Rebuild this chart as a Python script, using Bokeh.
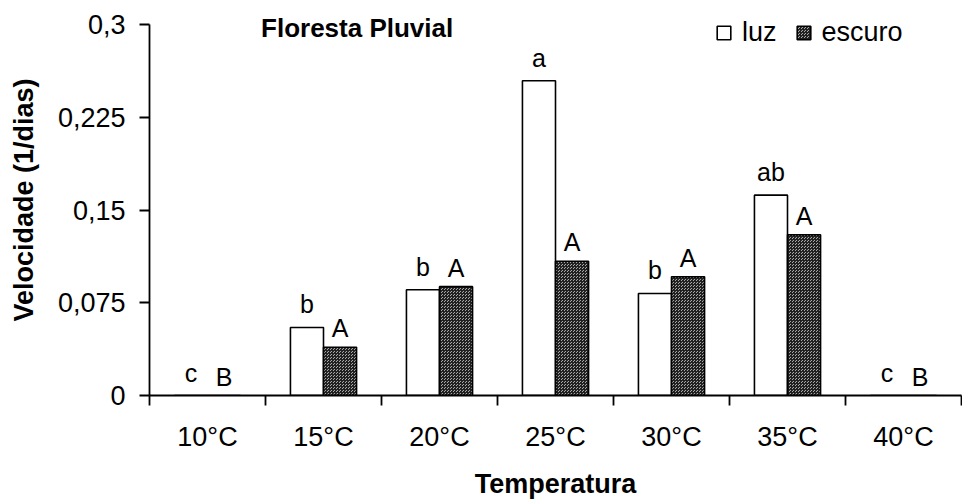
from bokeh.plotting import figure
from bokeh.models import ColumnDataSource, FixedTicker, Legend, LegendItem, Label, Range1d
from bokeh.transform import dodge
from bokeh.embed import file_html
from bokeh.resources import INLINE
from bokeh.core.properties import value

categories = ["10°C", "15°C", "20°C", "25°C", "30°C", "35°C", "40°C"]
luz = [0.0, 0.055, 0.0855, 0.2545, 0.0825, 0.162, 0.0]
escuro = [0.0, 0.039, 0.088, 0.1085, 0.096, 0.130, 0.0]
luz_letters = ["c", "b", "b", "a", "b", "ab", "c"]
escuro_letters = ["B", "A", "A", "A", "A", "A", "B"]
y_ticks = [0, 0.075, 0.15, 0.225, 0.3]
y_tick_labels = ["0", "0,075", "0,15", "0,225", "0,3"]

FONT = "Liberation Sans"
W = 0.285
Y_MAX = 0.3
Y_TOP = Y_MAX * (1 + 20 / 371)   # a little headroom above the axis for title and legend

pos = [i + 0.5 for i in range(len(categories))]
src = ColumnDataSource(dict(x=pos, luz=luz, escuro=escuro, lt=luz_letters, et=escuro_letters))

p = figure(width=962, height=502, x_range=Range1d(0, len(categories)), y_range=Range1d(0, Y_TOP),
           output_backend="svg", toolbar_location=None,
           min_border_left=149, min_border_right=1, min_border_top=4, min_border_bottom=107)
p.outline_line_color = None
p.xgrid.visible = False
p.ygrid.visible = False
p.background_fill_color = "white"
p.border_fill_color = "white"

r1 = p.vbar(x=dodge("x", -W / 2), top="luz", width=W, source=src,
            fill_color="white", line_color="black", line_width=1.6)
r2 = p.vbar(x=dodge("x", W / 2), top="escuro", width=W, source=src,
            fill_color="#a8a8a8", line_color="black", line_width=1.6,
            hatch_pattern="criss_cross", hatch_scale=3, hatch_weight=1, hatch_color="#202020")

p.text(x=dodge("x", -W / 2), y="luz", text="lt", source=src, text_align="center",
       text_baseline="alphabetic", y_offset=-23, text_font=value(FONT), text_font_size="25px",
       text_color="black")
p.text(x=dodge("x", W / 2), y="escuro", text="et", source=src, text_align="center",
       text_baseline="alphabetic", y_offset=-19, text_font=value(FONT), text_font_size="25px",
       text_color="black")

# y axis
ya = p.yaxis[0]
ya.ticker = FixedTicker(ticks=y_ticks)
ya.bounds = (0, Y_MAX)
ya.major_label_overrides = dict(zip(y_ticks, y_tick_labels))
ya.minor_tick_line_color = None
ya.major_tick_in = 0
ya.major_tick_out = 10
ya.major_tick_line_width = 1.8
ya.axis_line_width = 1.8
ya.axis_line_color = "black"
ya.major_tick_line_color = "black"
ya.major_label_standoff = 14
ya.major_label_text_font = FONT
ya.major_label_text_font_size = "27px"
ya.major_label_text_color = "black"
ya.axis_label = "Velocidade (1/dias)"
ya.axis_label_text_font = FONT
ya.axis_label_text_font_style = "bold"
ya.axis_label_text_font_size = "27px"
ya.axis_label_text_color = "black"
ya.axis_label_standoff = 16

# x axis
xa = p.xaxis[0]
xa.ticker = FixedTicker(ticks=pos, minor_ticks=list(range(len(categories) + 1)))
xa.major_label_overrides = dict(zip(pos, categories))
xa.major_tick_in = 0
xa.major_tick_out = 0
xa.minor_tick_in = 0
xa.minor_tick_out = 10
xa.minor_tick_line_color = "black"
xa.minor_tick_line_width = 1.8
xa.axis_line_width = 1.8
xa.axis_line_color = "black"
xa.major_label_standoff = 16
xa.major_label_text_font = FONT
xa.major_label_text_font_size = "27px"
xa.major_label_text_color = "black"
xa.axis_label = "Temperatura"
xa.axis_label_text_font = FONT
xa.axis_label_text_font_style = "bold"
xa.axis_label_text_font_size = "27px"
xa.axis_label_text_color = "black"
xa.axis_label_standoff = 14

title = Label(x=1.79, y=0.2975, text="Floresta Pluvial", text_align="center", text_baseline="middle",
              text_font=FONT, text_font_style="bold", text_font_size="26px", text_color="black")
p.add_layout(title)

legend = Legend(items=[LegendItem(label="luz", renderers=[r1]), LegendItem(label="escuro", renderers=[r2])],
                orientation="horizontal", location=(566, 347), border_line_color=None,
                background_fill_alpha=0, label_text_font=FONT, label_text_font_size="27px",
                label_text_color="black", glyph_width=17, glyph_height=17, label_standoff=10,
                spacing=18, padding=0, margin=0)
p.add_layout(legend)

open("out.html", "w").write(file_html(p, INLINE))
